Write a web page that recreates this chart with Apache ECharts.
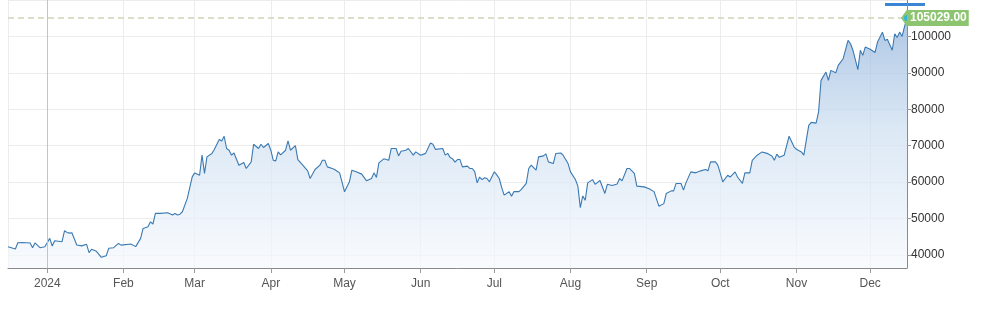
<!DOCTYPE html>
<html>
<head>
<meta charset="utf-8">
<script src="https://cdn.jsdelivr.net/npm/echarts@6/dist/echarts.min.js"></script>
<style>
html,body{margin:0;padding:0;background:#fff;}
#chart{width:982px;height:311px;}
</style>
</head>
<body>
<div id="chart"></div>
<script>
const dates = [
'2023-12-16','2023-12-19','2023-12-20','2023-12-22','2023-12-25','2023-12-26','2023-12-27','2023-12-29','2023-12-31',
'2024-01-02','2024-01-03','2024-01-04','2024-01-07','2024-01-08','2024-01-09','2024-01-10','2024-01-11','2024-01-13','2024-01-15',
'2024-01-17','2024-01-18','2024-01-19','2024-01-21','2024-01-23','2024-01-25','2024-01-26','2024-01-28','2024-01-30','2024-01-31',
'2024-02-04','2024-02-06','2024-02-08','2024-02-09','2024-02-11','2024-02-12','2024-02-13','2024-02-14','2024-02-16','2024-02-19',
'2024-02-21','2024-02-22','2024-02-23','2024-02-24','2024-02-25','2024-02-27','2024-02-29',
'2024-03-01','2024-03-03','2024-03-04','2024-03-05','2024-03-06','2024-03-08','2024-03-09','2024-03-11','2024-03-12','2024-03-13',
'2024-03-14','2024-03-15','2024-03-16','2024-03-17','2024-03-19','2024-03-21','2024-03-22','2024-03-24','2024-03-25','2024-03-27',
'2024-03-28','2024-03-29','2024-03-31',
'2024-04-01','2024-04-02','2024-04-03','2024-04-04','2024-04-05','2024-04-07','2024-04-08','2024-04-09','2024-04-11','2024-04-12',
'2024-04-14','2024-04-16','2024-04-17','2024-04-19','2024-04-21','2024-04-22','2024-04-23','2024-04-24','2024-04-26','2024-04-27',
'2024-04-28','2024-04-29','2024-04-30',
'2024-05-01','2024-05-03','2024-05-04','2024-05-06','2024-05-08','2024-05-10','2024-05-12','2024-05-13','2024-05-14','2024-05-15',
'2024-05-17','2024-05-19','2024-05-20','2024-05-22','2024-05-23','2024-05-24','2024-05-26','2024-05-27','2024-05-29','2024-05-30',
'2024-06-01','2024-06-03','2024-06-05','2024-06-06','2024-06-07','2024-06-10','2024-06-11','2024-06-12','2024-06-13','2024-06-14',
'2024-06-15','2024-06-16','2024-06-17','2024-06-18','2024-06-20','2024-06-21','2024-06-22','2024-06-23','2024-06-24','2024-06-25',
'2024-06-26','2024-06-27','2024-06-28','2024-06-29',
'2024-07-01','2024-07-02','2024-07-03','2024-07-04','2024-07-05','2024-07-07','2024-07-08','2024-07-09','2024-07-11','2024-07-12',
'2024-07-14','2024-07-15','2024-07-16','2024-07-18','2024-07-19','2024-07-21','2024-07-22','2024-07-23','2024-07-25','2024-07-26',
'2024-07-28','2024-07-29','2024-07-31',
'2024-08-01','2024-08-03','2024-08-04','2024-08-05','2024-08-06','2024-08-07','2024-08-08','2024-08-10','2024-08-11','2024-08-13',
'2024-08-15','2024-08-16','2024-08-18','2024-08-20','2024-08-21','2024-08-22','2024-08-24','2024-08-25','2024-08-27','2024-08-28',
'2024-08-31',
'2024-09-02','2024-09-04','2024-09-06','2024-09-08','2024-09-09','2024-09-11','2024-09-12','2024-09-13','2024-09-15','2024-09-16',
'2024-09-17','2024-09-19','2024-09-21','2024-09-23','2024-09-25','2024-09-26','2024-09-27','2024-09-29','2024-09-30',
'2024-10-02','2024-10-04','2024-10-05','2024-10-07','2024-10-08','2024-10-10','2024-10-11','2024-10-13','2024-10-14','2024-10-16',
'2024-10-18','2024-10-20','2024-10-22','2024-10-23','2024-10-24','2024-10-25','2024-10-27','2024-10-29','2024-10-31',
'2024-11-01','2024-11-03','2024-11-04','2024-11-06','2024-11-07','2024-11-09','2024-11-10','2024-11-11','2024-11-13','2024-11-14',
'2024-11-15','2024-11-17','2024-11-18','2024-11-20','2024-11-22','2024-11-23','2024-11-24','2024-11-26','2024-11-27','2024-11-28',
'2024-11-29',
'2024-12-01','2024-12-03','2024-12-04','2024-12-06','2024-12-07','2024-12-08','2024-12-10','2024-12-11','2024-12-12','2024-12-13',
'2024-12-14','2024-12-15','2024-12-16'
];
const prices = [
42270,41640,43370,43450,43300,42000,43300,42000,42270,
44570,42460,43900,43640,46650,46200,46000,46100,42730,42500,
42930,40630,41550,41000,39360,39800,41830,42000,43200,42700,
43000,42300,44570,47300,47750,49100,48500,51420,51420,51600,
51000,51400,51000,51200,51870,55530,61450,
62540,61900,67400,62400,66930,67860,68960,71700,71300,72600,
69230,68760,67400,68000,64650,65400,63750,65560,70400,69230,
70400,69500,70600,
68760,66000,65830,68300,67500,68760,71300,68760,70000,66200,
64650,63100,61000,63470,64650,66000,66000,64190,63750,63470,
63000,62540,60000,
57340,60080,63280,62800,62200,60350,61000,62550,61300,65300,
66400,66000,69230,69230,67200,68500,68760,69230,67400,68300,
67400,67900,70760,70400,69000,69230,67400,67900,66760,66400,
65500,66200,66200,64190,64400,63750,63750,62900,59800,61400,
60700,61200,61000,60080,
62820,62000,61000,58500,56440,57370,56160,57400,57400,58000,
59640,63750,64650,63280,66930,67200,67750,65560,65100,67860,
68000,67400,65100,
62820,60740,58900,53000,56200,55000,59800,60700,59400,60450,
56900,59400,59100,59500,61000,60350,63750,63750,62400,58900,
58700,
58200,57400,53400,54100,56900,57600,57600,59640,59640,57800,
59800,62820,62550,63100,63470,63100,65560,65560,64650,
60080,61900,61400,62820,61400,59640,62550,62550,66000,67400,
68300,67900,67200,66000,67700,66800,67400,72600,69700,
69000,68300,67400,75600,76400,76200,79260,87940,90220,87940,
90680,90000,92050,93880,98900,98000,96200,90880,96200,94800,
97070,
96500,95600,98440,101180,98900,99200,96200,100740,99700,101180,
100000,102700,105029
];
const yTicks = [40000, 50000, 60000, 70000, 80000, 90000, 100000];
const lastLabel = '105029.00';

const seriesData = dates.map((d, i) => [d, prices[i]]);
const lastDate = dates[dates.length - 1];
const lastPrice = prices[prices.length - 1];

const chart = echarts.init(document.getElementById('chart'), null, {renderer: 'canvas'});
chart.setOption({
  animation: false,
  backgroundColor: '#fff',
  textStyle: {fontFamily: 'Liberation Sans, Arial, sans-serif'},
  grid: {left: 8, right: 75, top: 0, bottom: 43, containLabel: false},
  xAxis: {
    type: 'time',
    min: dates[0],
    max: lastDate,
    splitNumber: 12,
    minInterval: 28 * 86400000,
    maxInterval: 31 * 86400000,
    axisLine: {lineStyle: {color: '#8a8a8a', width: 1}},
    axisTick: {show: true, length: 5, lineStyle: {color: '#9a9a9a'}},
    axisLabel: {
      color: '#555', fontSize: 12, margin: 10,
      fontFamily: 'Liberation Sans, Arial, sans-serif',
      formatter: function (val) {
        const d = new Date(val);
        const m = ['Jan','Feb','Mar','Apr','May','Jun','Jul','Aug','Sep','Oct','Nov','Dec'];
        return d.getMonth() === 0 ? String(d.getFullYear()) : m[d.getMonth()];
      }
    },
    splitLine: {show: true, lineStyle: {color: '#ececec', width: 1}}
  },
  yAxis: {
    type: 'value',
    position: 'right',
    min: 36430,
    max: 110000,
    splitNumber: 7,
    minInterval: 10000,
    maxInterval: 10000,
    axisLine: {show: true, lineStyle: {color: '#8a8a8a'}},
    axisTick: {show: true, length: 4, lineStyle: {color: '#9a9a9a'}},
    axisLabel: {
      color: '#333', fontSize: 12, margin: 4,
      fontFamily: 'Liberation Sans, Arial, sans-serif',
      showMinLabel: false, showMaxLabel: false,
      formatter: function (v) { return yTicks.indexOf(v) >= 0 ? String(v) : ''; }
    },
    splitLine: {show: true, lineStyle: {color: '#ececec'}}
  },
  graphic: [
    {type: 'rect', shape: {x: 885, y: 3, width: 40, height: 3}, style: {fill: '#3b86d4'}, silent: true}
  ],
  series: [{
    type: 'line',
    data: seriesData,
    showSymbol: false,
    symbol: 'none',
    lineStyle: {color: '#3a79b2', width: 1.1},
    areaStyle: {
      origin: 'start',
      color: new echarts.graphic.LinearGradient(0, 0, 0, 1, [
        {offset: 0, color: '#8db0da'},
        {offset: 0.45, color: '#cddff1'},
        {offset: 1, color: '#f6f9fd'}
      ])
    },
    markLine: {
      silent: true,
      symbol: 'none',
      animation: false,
      data: [
        {
          yAxis: lastPrice,
          lineStyle: {color: '#cdd5b8', type: [6, 4], width: 1.5},
          label: {
            show: true, position: 'end', distance: 0,
            formatter: lastLabel,
            color: '#fff', fontWeight: 'bold', fontSize: 12,
            fontFamily: 'Liberation Sans, Arial, sans-serif',
            backgroundColor: '#8cc46f', padding: [2, 2, 2, 3]
          }
        },
        {
          xAxis: '2024-01-01',
          lineStyle: {color: '#c4c4c4', type: 'solid', width: 1},
          label: {show: false}
        }
      ]
    },
    markPoint: {
      silent: true,
      animation: false,
      label: {show: false},
      data: [
        {coord: [lastDate, lastPrice], symbol: 'diamond', symbolSize: [12, 17], itemStyle: {color: '#8cc46f'}},
        {coord: [lastDate, lastPrice], symbol: 'circle', symbolSize: 6, itemStyle: {color: '#35b5dc'}}
      ]
    }
  }]
});
</script>
</body>
</html>
